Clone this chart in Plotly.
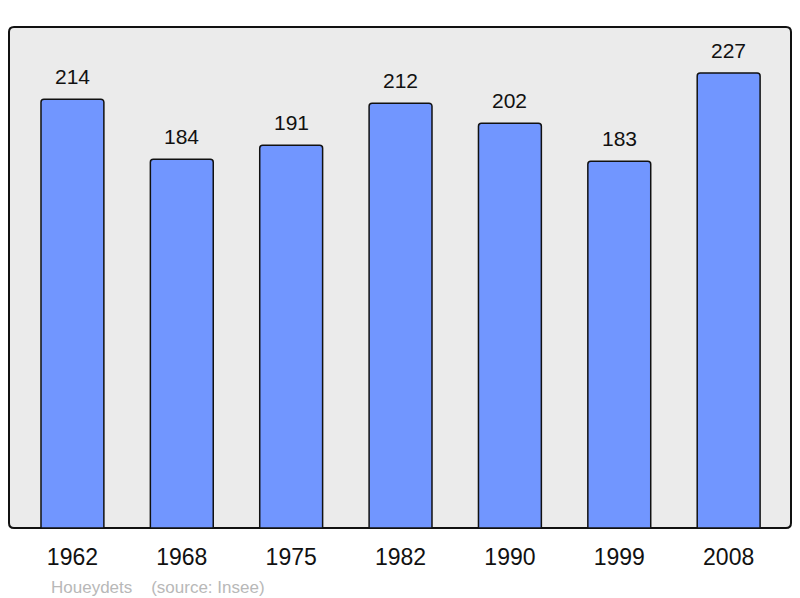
import plotly.graph_objects as go

# Population data
years = ['1962', '1968', '1975', '1982', '1990', '1999', '2008']
population = [214, 184, 191, 212, 202, 183, 227]

town = 'Houeydets'
source_note = '(source: Insee)'

W, H = 800, 598
ML, MR, MT, MB = 9, 9, 27, 70

fig = go.Figure()

fig.add_trace(go.Bar(
    x=years,
    y=population,
    width=0.575,
    marker=dict(color='#7196ff', line=dict(color='#111111', width=1.5), cornerradius=3),
    hoverinfo='x+y',
))

# value labels above each bar (x as category index, numeric-looking strings get misread)
for i, val in enumerate(population):
    fig.add_annotation(
        x=i, y=val, text=str(val), showarrow=False,
        yanchor='bottom', yshift=9,
        font=dict(family='Liberation Sans, Arial', size=21, color='#111111'),
    )

fig.add_annotation(
    xref='paper', yref='paper', x=0.051, y=-0.118,
    xanchor='left', yanchor='middle', showarrow=False,
    text=town + '    ' + source_note,
    font=dict(family='Liberation Sans, Arial', size=17, color='#b8b8b8'),
)

# rounded frame around the plot area
pw, ph = W - ML - MR, H - MT - MB
r = 5
rx, ry = r / pw, r / ph
frame = (f'M {rx},0 L {1-rx},0 Q 1,0 1,{ry} L 1,{1-ry} Q 1,1 {1-rx},1 '
         f'L {rx},1 Q 0,1 0,{1-ry} L 0,{ry} Q 0,0 {rx},0 Z')
fig.add_shape(
    type='path', path=frame, xref='paper', yref='paper', layer='below',
    fillcolor='#ebebeb', line=dict(color='#111111', width=2),
)

fig.update_layout(
    width=W, height=H,
    margin=dict(l=ML, r=MR, t=MT, b=MB),
    paper_bgcolor='white',
    plot_bgcolor='rgba(0,0,0,0)',
    showlegend=False,
    font=dict(family='Liberation Sans, Arial', color='#111111'),
)
fig.update_xaxes(
    type='category', range=[-0.58, 6.57], showgrid=False, zeroline=False,
    ticks='outside', ticklen=8, tickcolor='rgba(0,0,0,0)',
    tickfont=dict(size=23, color='#111111'),
)
fig.update_yaxes(range=[0, 250], showgrid=False, zeroline=False, showticklabels=False)

# drop the default body margin so the figure fills the window
fig.write_html('out.html', config={'displayModeBar': False},
               post_script="document.body.style.margin='0';")
